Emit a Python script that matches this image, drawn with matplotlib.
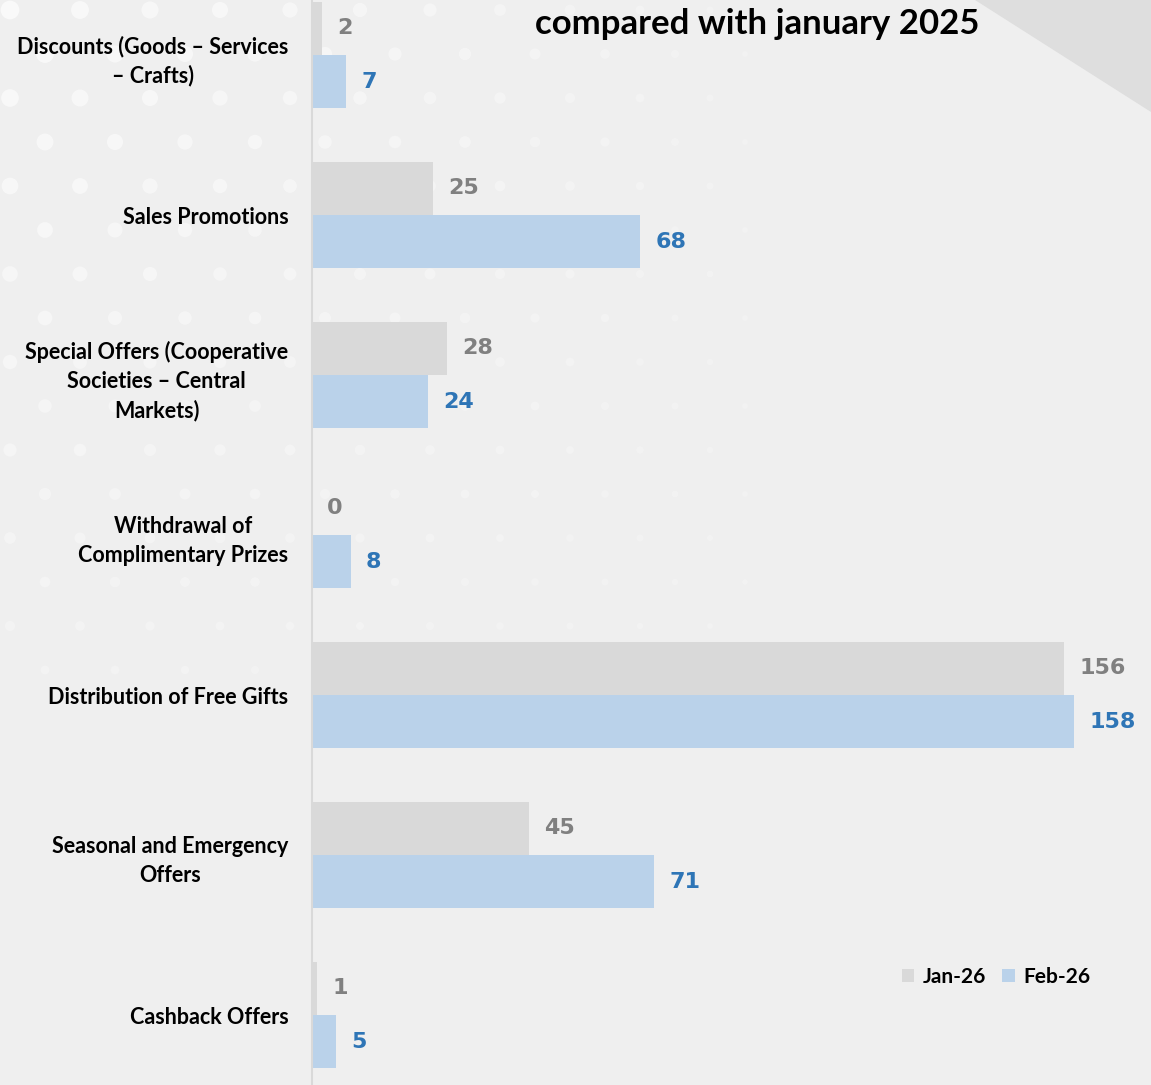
import matplotlib.pyplot as plt
from matplotlib.patches import Polygon
import matplotlib as mpl
import numpy as np

mpl.rcParams['font.family'] = ['Lato', 'DejaVu Sans']

# data
categories = ['Discounts (Goods – Services\n– Crafts)', 'Sales Promotions',
              'Special Offers (Cooperative\nSocieties – Central\nMarkets)',
              'Withdrawal of\nComplimentary Prizes', 'Distribution of Free Gifts',
              'Seasonal and Emergency\nOffers', 'Cashback Offers']
jan_vals = [2, 25, 28, 0, 156, 45, 1]
feb_vals = [7, 68, 24, 8, 158, 71, 5]
series_names = ['Jan-26', 'Feb-26']

gray = '#d9d9d9'
blue = '#bad2ea'

W, H = 1151, 1085
fig = plt.figure(figsize=(W / 100, H / 100), dpi=100)
fig.patch.set_facecolor('#efefef')

# background decoration: corner shade and soft white dots
fig.patches.append(Polygon([(975 / W, 1), (1, 1), (1, 1 - 112 / H)], closed=True,
                           transform=fig.transFigure, facecolor='#dedede', edgecolor='none', zorder=0))
bg = fig.add_axes([0, 0, 1, 1])
bg.set_xlim(0, W)
bg.set_ylim(H, 0)
bg.axis('off')
dx, dy = [], []
for r, yy in enumerate(np.arange(10, 700, 44)):
    for xx in np.arange(10 + (r % 2) * 35, 760, 70):
        dx.append(xx)
        dy.append(yy)
dx = np.array(dx)
dy = np.array(dy)
fade = np.clip(1 - dx / 760, 0, 1) * np.clip(1 - dy / 800, 0, 1)
bg.scatter(dx, dy, s=15 + 170 * fade, color='white', alpha=0.2 + 0.45 * fade, linewidths=0, zorder=0)

ax = fig.add_axes([312 / W, 0, 1 - 312 / W, 1])
ax.set_facecolor('none')

y = list(range(len(categories)))
h = 0.333
ax.barh([i - h / 2 for i in y], jan_vals, height=h, color=gray, zorder=2)
ax.barh([i + h / 2 for i in y], feb_vals, height=h, color=blue, zorder=2)

lab_font = dict(fontsize=16, fontweight='bold', family='DejaVu Sans')
for i in y:
    ax.annotate(str(jan_vals[i]), (jan_vals[i], i - h / 2), xytext=(11, 0), textcoords='offset points',
                va='center', ha='left', color='#808080', **lab_font)
    ax.annotate(str(feb_vals[i]), (feb_vals[i], i + h / 2), xytext=(11, 0), textcoords='offset points',
                va='center', ha='left', color='#2e75b6', **lab_font)

ax.set_xlim(0, (W - 312) / ((1074 - 312) / 158))
ax.set_ylim((H - 55) / 160, -55 / 160)
ax.set_yticks(y)
ax.set_yticklabels(categories, fontsize=15.5, fontweight='bold', ha='right',
                   multialignment='center', linespacing=1.45)
ax.tick_params(axis='y', length=0, pad=17)
ax.set_xticks([])
for s in ['top', 'right', 'bottom']:
    ax.spines[s].set_visible(False)
ax.spines['left'].set_color('#d9d9d9')
ax.spines['left'].set_linewidth(1.5)

fig.text(757 / W, 1 - 24 / H, 'compared with january 2025', ha='center', va='center',
         fontsize=25, fontweight='bold')

# legend
ax.legend(series_names, loc='center', bbox_to_anchor=((996 - 312) / (W - 312), 1 - 977 / H),
          ncol=2, frameon=False, prop={'weight': 'bold', 'size': 15},
          handlelength=0.6, handleheight=0.6, handletextpad=0.4, columnspacing=0.8)

fig.savefig('out.png', dpi=100, facecolor=fig.get_facecolor())
